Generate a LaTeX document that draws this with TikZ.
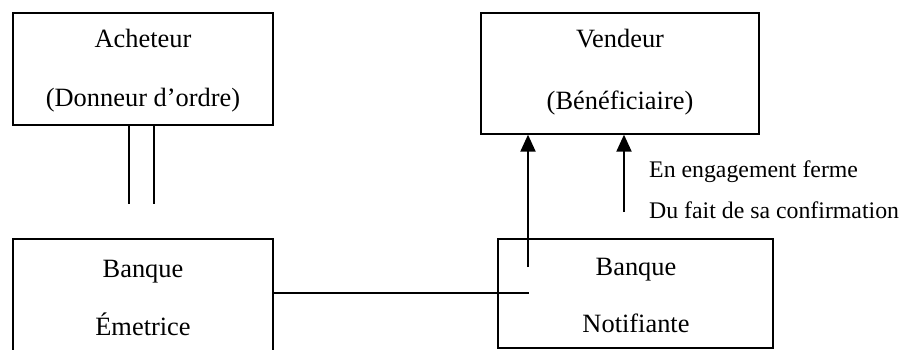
\documentclass[tikz,border=0pt]{standalone}
\usepackage{fontspec}
\setmainfont{Liberation Serif}
\usetikzlibrary{arrows.meta}
\begin{document}
\begin{tikzpicture}[x=1pt,y=-1pt,
  box/.style={draw,line width=1.3pt,inner sep=0pt,fill=none},
  boxtext/.style={anchor=base,inner sep=0pt,font=\fontsize{26.4}{30}\selectfont},
  note/.style={anchor=base west,inner sep=0pt,font=\fontsize{23.8}{28}\selectfont},
  link/.style={line width=1.3pt},
  flow/.style={line width=2pt,-{Triangle[width=15pt,length=17pt]}}
]
\useasboundingbox (0,0) rectangle (902,350);
\clip (0,0) rectangle (902,350);

% parties
\node[box,minimum width=260pt,minimum height=112pt] (ach) at (143,69) {};
\node[box,minimum width=278pt,minimum height=121pt] (vend) at (620,73.5) {};
\node[box,minimum width=260pt,minimum height=120pt] (emet) at (143,299) {};
\node[box,minimum width=275pt,minimum height=109pt] (notif) at (635.5,293.5) {};

% labels inside the boxes
\node[boxtext] (achA) at (143,48) {Acheteur};
\node[boxtext] (achB) at (143,107) {(Donneur d’ordre)};
\node[boxtext] (vendA) at (620,48) {Vendeur};
\node[boxtext] (vendB) at (620,110) {(Bénéficiaire)};
\node[boxtext] (emetA) at (143,277) {Banque};
\node[boxtext] (emetB) at (143,335) {Émetrice};
\node[boxtext] (notifA) at (636,275) {Banque};
\node[boxtext] (notifB) at (636,332) {Notifiante};

% note beside the confirmation arrow
\node[note] (noteA) at (649,177) {En engagement ferme};
\node[note] (noteB) at (649,218) {Du fait de sa confirmation};

% connectors
\coordinate (dl) at (129,204);
\coordinate (dr) at (154,204);
\draw[link] (ach.south -| dl) -- (dl);
\draw[link] (ach.south -| dr) -- (dr);

\coordinate (hend) at (529,293);
\draw[link] (emet.east |- hend) -- (hend);

\coordinate (up1) at (528,267);
\coordinate (up2) at (624,212);
\draw[flow] (up1) -- (up1 |- vend.south);
\draw[flow] (up2) -- (up2 |- vend.south);
\end{tikzpicture}
\end{document}
